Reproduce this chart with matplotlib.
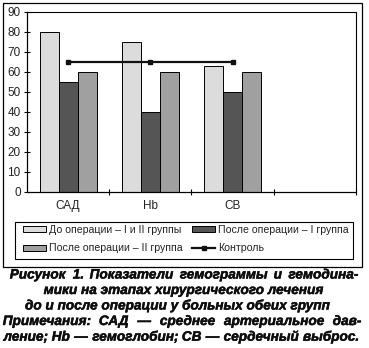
import matplotlib
matplotlib.use("Agg")
import matplotlib.pyplot as plt
from matplotlib.patches import Rectangle
from matplotlib.textpath import TextPath
from matplotlib.font_manager import FontProperties
import matplotlib.patheffects as pe
import numpy as np

plt.rcParams['font.family'] = ['Liberation Sans', 'DejaVu Sans']

categories = ["САД", "Hb", "СВ", ""]
before_all = [80, 75, 63]
after_g1 = [55, 40, 50]
after_g2 = [60, 60, 60]
control = [65, 65, 65]
yticks = [0, 10, 20, 30, 40, 50, 60, 70, 80, 90]

labels = ["До операции – I и II группы", "После операции – I группа",
          "После операции – II группа", "Контроль"]
colors = ["#dcdcdc", "#555555", "#a0a0a0"]

W, H = 369, 348
fig = plt.figure(figsize=(W / 100, H / 100), dpi=100)

def px(x0, y0, x1, y1):
    return [x0 / W, 1 - y1 / H, (x1 - x0) / W, (y1 - y0) / H]

ax = fig.add_axes(px(27, 12, 356, 192))
x = np.arange(3)
bw = 0.23
b1 = ax.bar(x - bw, before_all, bw, color=colors[0], edgecolor="black", linewidth=0.7)
b2 = ax.bar(x, after_g1, bw, color=colors[1], edgecolor="black", linewidth=0.7)
b3 = ax.bar(x + bw, after_g2, bw, color=colors[2], edgecolor="black", linewidth=0.7)
ln, = ax.plot(x, control, color="#111111", linewidth=1.6, marker="s",
              markersize=3.5, markerfacecolor="#111111", markeredgecolor="#111111")

ax.set_xlim(-0.5, 3.5)
ax.set_ylim(0, 90)
ax.set_yticks(yticks)
ax.set_xticks([0.5, 1.5, 2.5, 3.5])
ax.set_xticklabels([])
ax.set_xticks(np.arange(4), minor=True)
ax.set_xticklabels(categories, minor=True)
ax.tick_params(axis="x", which="minor", length=0, pad=6, labelsize=8.5, labelcolor="#222222")
ax.tick_params(axis="x", which="major", direction="inout", length=5, width=0.8)
ax.tick_params(axis="y", direction="inout", length=5, width=0.8, labelsize=8.5,
               labelcolor="#222222", pad=2)
ax.spines["top"].set_visible(False)
ax.spines["right"].set_visible(False)
ax.spines["left"].set_linewidth(0.8)
ax.spines["bottom"].set_linewidth(0.8)

# plot area frame
fig.patches.append(Rectangle((27 / W, 1 - 192 / H), 329 / W, 180 / H, transform=fig.transFigure,
                             fill=False, edgecolor="black", linewidth=0.8, zorder=0))
# outer chart frame
fig.patches.append(Rectangle((3 / W, 1 - 267 / H), 359 / W, 264 / H, transform=fig.transFigure,
                             fill=False, edgecolor="black", linewidth=0.9))
# legend frame
fig.patches.append(Rectangle((15 / W, 1 - 259 / H), 338 / W, 37 / H, transform=fig.transFigure,
                             fill=False, edgecolor="black", linewidth=0.8))

handles = [b1, b3, b2, ln]
leg_labels = [labels[0], labels[2], labels[1], labels[3]]
leg = fig.legend(handles, leg_labels, ncol=2, loc="upper left",
                 bbox_to_anchor=(23 / W, 1 - 225 / H),
                 borderaxespad=0, borderpad=0, fontsize=7.6, frameon=False,
                 handlelength=2.2, handleheight=0.45, handletextpad=0.3,
                 labelspacing=0.8, columnspacing=0.85)
for t in leg.get_texts():
    t.set_color("#222222")

caption = [
    "Рисунок 1. Показатели гемограммы и гемодина-",
    "мики на этапах хирургического лечения",
    "до и после операции у больных обеих групп",
    "Примечания: САД — среднее артериальное дав-",
    "ление; Hb — гемоглобин; СВ — сердечный выброс.",
]
# (baseline, mode, a, b): justified lines span a..b, centred lines centre on a
layout = [
    (278.5, "justify", 10, 358),
    (294.0, "center", 183.5, None),
    (309.5, "center", 177.5, None),
    (325.0, "justify", 3, 361),
    (340.7, "justify", 3, 358),
]
cap_size = 9.8
fp = FontProperties(family="Liberation Sans", weight="bold", style="italic")
size_px = cap_size * 100 / 72
cap_kw = dict(va="baseline", fontsize=cap_size, fontweight="bold", fontstyle="italic",
              color="#0d0d0d",
              path_effects=[pe.withStroke(linewidth=0.35, foreground="#0d0d0d")])

for line, (base, mode, a, b) in zip(caption, layout):
    yb = 1 - base / H
    if mode == "center":
        e = TextPath((0, 0), line, size=size_px, prop=fp).get_extents()
        fig.text((a - (e.x0 + e.x1) / 2) / W, yb, line, ha="left", **cap_kw)
        continue
    # justified: equal ink gaps between words, outline extents give the side bearings
    words = line.split(" ")
    exts = [TextPath((0, 0), w, size=size_px, prop=fp).get_extents() for w in words]
    total = sum(e.x1 - e.x0 for e in exts)
    gap = (b - a - total) / (len(words) - 1)
    xpos = a
    for w, e in zip(words, exts):
        fig.text((xpos - e.x0) / W, yb, w, ha="left", **cap_kw)
        xpos += (e.x1 - e.x0) + gap

fig.savefig("out.png", dpi=100)
